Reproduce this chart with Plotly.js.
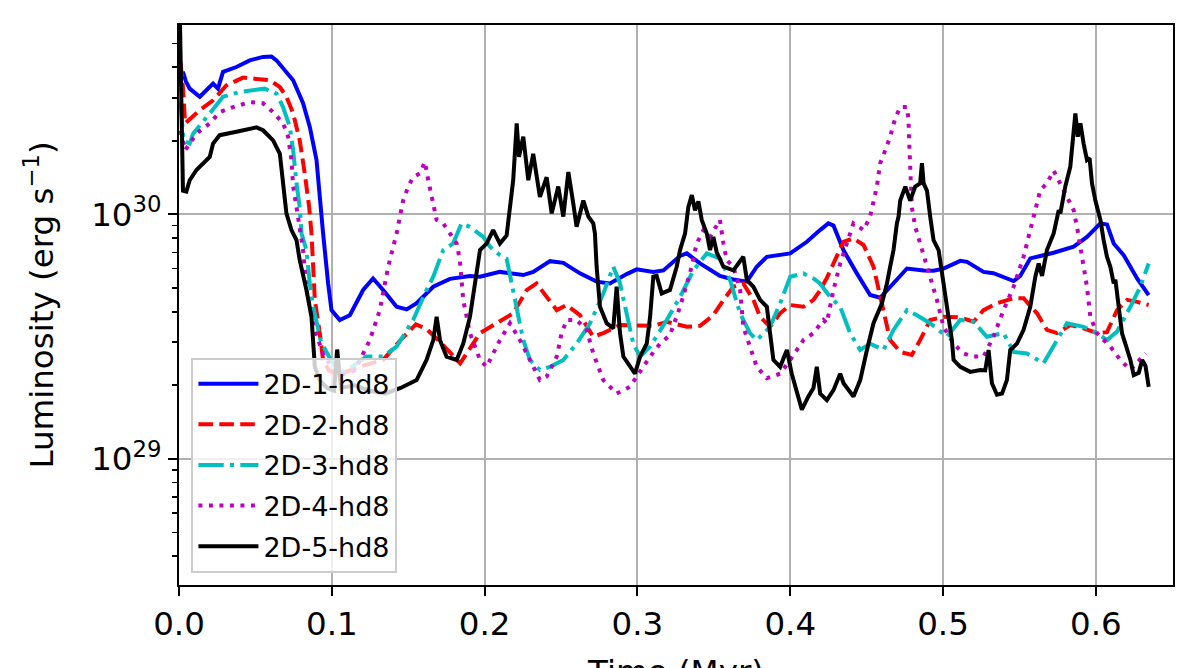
<!DOCTYPE html>
<html>
<head>
<meta charset="utf-8">
<script src="https://cdn.plot.ly/plotly-3.0.1.min.js"></script>
<style>html,body{margin:0;padding:0;background:#fff;overflow:hidden;width:1196px;height:668px;}#chart{width:1196px;height:700px;}</style>
</head>
<body>
<div id="chart"></div>
<script>
// ---- Data (time in Myr, luminosity in erg/s) ----
const seriesNames = ['2D-1-hd8','2D-2-hd8','2D-3-hd8','2D-4-hd8','2D-5-hd8'];

const t1 = [0.001,0.0026,0.0045,0.007,0.0136,0.019,0.0223,0.0255,0.0288,0.0376,0.0463,0.055,0.0605,0.0638,0.0681,0.0747,0.0812,0.0856,0.090,0.0921,0.0943,0.0976,0.0998,0.1052,0.1118,0.1205,0.127,0.1336,0.1424,0.149,0.1555,0.1664,0.1773,0.1904,0.197,0.210,0.2253,0.2318,0.2428,0.2515,0.2624,0.2733,0.282,0.293,0.2995,0.3104,0.317,0.3279,0.3323,0.341,0.354,0.3628,0.3716,0.3781,0.3847,0.400,0.4109,0.4195,0.425,0.4283,0.4348,0.4436,0.4523,0.4589,0.4654,0.4764,0.4873,0.4938,0.5003,0.5113,0.5157,0.5265,0.533,0.5396,0.5462,0.5505,0.5571,0.5637,0.5724,0.5855,0.5942,0.603,0.6073,0.6117,0.6182,0.627,0.6346];
const L1 = [3.6e30,3.83e30,3.5e30,3.27e30,3.03e30,3.27e30,3.43e30,3.27e30,3.83e30,4.01e30,4.27e30,4.41e30,4.43e30,4.27e30,3.95e30,3.54e30,2.85e30,2.28e30,1.67e30,1.14e30,8.36e29,5.22e29,4.06e29,3.70e29,3.87e29,4.91e29,5.47e29,4.91e29,4.19e29,4.09e29,4.33e29,5.06e29,5.45e29,5.60e29,5.56e29,5.82e29,5.65e29,5.82e29,6.44e29,6.34e29,5.74e29,5.31e29,5.22e29,5.70e29,5.96e29,5.82e29,5.90e29,6.76e29,6.93e29,6.31e29,5.60e29,5.42e29,5.31e29,6.11e29,6.71e29,6.93e29,7.73e29,8.63e29,9.19e29,9.0e29,7.15e29,5.74e29,4.68e29,4.56e29,5.06e29,6.01e29,5.90e29,5.88e29,6.0e29,6.46e29,6.4e29,5.82e29,5.75e29,5.53e29,5.34e29,5.6e29,6.61e29,6.76e29,6.97e29,7.38e29,8.09e29,9.19e29,9.1e29,7.61e29,6.82e29,5.47e29,4.68e29];

const t2 = [0.001,0.0026,0.004,0.0136,0.0223,0.031,0.0419,0.0529,0.0594,0.066,0.0703,0.0747,0.079,0.0823,0.0852,0.0867,0.0889,0.0921,0.0943,0.098,0.104,0.112,0.12,0.1336,0.145,0.155,0.162,0.171,0.184,0.197,0.2187,0.2275,0.234,0.2406,0.2472,0.2537,0.2624,0.2711,0.2777,0.2886,0.2995,0.3104,0.3192,0.3323,0.341,0.3497,0.3563,0.3628,0.3693,0.3759,0.3803,0.3868,0.3934,0.40,0.4086,0.4152,0.4196,0.424,0.4283,0.4348,0.4414,0.448,0.4545,0.461,0.4654,0.472,0.4796,0.485,0.4916,0.5003,0.5113,0.52,0.5265,0.5353,0.5462,0.5527,0.5615,0.568,0.5746,0.5833,0.592,0.6008,0.6073,0.6139,0.6204,0.627,0.6346];
const L2 = [4.2e30,3.3e30,2.36e30,2.67e30,2.93e30,3.37e30,3.63e30,3.59e30,3.54e30,3.32e30,3.03e30,2.59e30,2.01e30,1.47e30,1.07e30,8.36e29,4.47e29,3.27e29,2.54e29,2.3e29,2.2e29,2.3e29,2.4e29,2.54e29,3.06e29,3.55e29,3.4e29,3.0e29,2.46e29,3.27e29,3.94e29,4.9e29,5.22e29,4.6e29,4.06e29,4.26e29,3.87e29,3.16e29,3.27e29,3.53e29,3.5e29,3.5e29,3.64e29,3.47e29,3.5e29,3.87e29,4.47e29,5.06e29,5.22e29,4.47e29,3.81e29,3.47e29,3.94e29,4.26e29,4.19e29,4.47e29,4.9e29,5.5e29,6.3e29,7.73e29,7.98e29,7.5e29,6.11e29,4.06e29,3.06e29,2.74e29,2.66e29,3.06e29,3.70e29,3.81e29,3.79e29,3.64e29,4.06e29,4.33e29,4.54e29,4.54e29,3.94e29,3.37e29,3.27e29,3.53e29,3.42e29,3.27e29,3.3e29,4.06e29,4.47e29,4.39e29,4.26e29];

const t3 = [0.001,0.003,0.007,0.0092,0.0201,0.0288,0.0398,0.0485,0.0561,0.0638,0.0681,0.0725,0.0747,0.0769,0.079,0.0802,0.0834,0.0856,0.0878,0.093,0.1,0.106,0.112,0.1227,0.1336,0.1424,0.1532,0.162,0.1664,0.1729,0.1794,0.1849,0.1904,0.1991,0.2035,0.21,0.2144,0.2177,0.221,0.2253,0.2297,0.2362,0.2428,0.2515,0.2602,0.269,0.2777,0.2842,0.2886,0.293,0.2973,0.3017,0.3083,0.3192,0.3279,0.3366,0.3454,0.3541,0.3606,0.3672,0.3737,0.3781,0.3868,0.3934,0.40,0.4086,0.4152,0.4195,0.4261,0.4327,0.4392,0.4458,0.4523,0.461,0.4676,0.4764,0.4829,0.4916,0.5026,0.5113,0.52,0.5287,0.5396,0.5462,0.5549,0.5658,0.5724,0.5811,0.592,0.6008,0.6073,0.6139,0.6226,0.6291,0.6346];
const L3 = [2.9e30,2.0e30,1.95e30,2.14e30,2.59e30,3.03e30,3.17e30,3.22e30,3.27e30,3.12e30,2.75e30,2.28e30,1.83e30,1.34e30,1.07e30,8.36e29,7.15e29,5.22e29,4.19e29,3.0e29,2.5e29,2.25e29,2.35e29,2.62e29,2.62e29,2.88e29,3.70e29,4.91e29,5.56e29,7.15e29,7.61e29,9.19e29,8.9e29,8.09e29,7.38e29,6.82e29,6.6e29,5.22e29,4.06e29,3.06e29,2.54e29,2.31e29,2.38e29,2.54e29,2.96e29,3.59e29,4.75e29,6.11e29,5.22e29,3.94e29,2.96e29,2.62e29,2.88e29,3.70e29,4.60e29,5.90e29,6.93e29,6.6e29,5.4e29,3.94e29,3.27e29,3.06e29,3.47e29,4.33e29,5.56e29,5.74e29,5.47e29,5.22e29,4.6e29,4.19e29,3.27e29,2.79e29,2.96e29,2.79e29,3.37e29,4.06e29,3.87e29,3.59e29,3.16e29,3.70e29,3.64e29,3.16e29,3.27e29,2.74e29,2.70e29,2.46e29,2.88e29,3.59e29,3.47e29,3.27e29,3.06e29,3.32e29,4.19e29,5.06e29,6.3e29];

const t4 = [0.001,0.004,0.007,0.0114,0.0201,0.0266,0.0354,0.0463,0.055,0.0616,0.0681,0.0714,0.0736,0.0747,0.0769,0.079,0.0812,0.0834,0.088,0.095,0.105,0.115,0.1249,0.1314,0.1369,0.1424,0.1467,0.15,0.1532,0.1576,0.1609,0.1631,0.1664,0.1686,0.1729,0.1773,0.1817,0.1838,0.186,0.1904,0.197,0.2013,0.21,0.2166,0.2231,0.2297,0.2362,0.2406,0.2472,0.2504,0.2537,0.2602,0.2668,0.2711,0.2777,0.2864,0.2951,0.2995,0.3083,0.3148,0.3213,0.3279,0.3344,0.3388,0.3432,0.3475,0.354,0.3563,0.3585,0.3628,0.3672,0.3693,0.3737,0.3781,0.3847,0.3934,0.40,0.4086,0.4152,0.4217,0.4239,0.4283,0.4327,0.4392,0.4414,0.448,0.4523,0.4567,0.4589,0.4622,0.4654,0.4687,0.472,0.4764,0.4774,0.478,0.4785,0.4796,0.4818,0.485,0.4895,0.4916,0.496,0.5003,0.5069,0.5134,0.52,0.5265,0.533,0.5396,0.5462,0.5527,0.5593,0.5615,0.5637,0.568,0.5724,0.5746,0.5811,0.5855,0.5877,0.592,0.5942,0.5964,0.6008,0.6095,0.616,0.6226,0.6291,0.6325];
const L4 = [2.2e30,1.83e30,1.95e30,2.14e30,2.36e30,2.62e30,2.75e30,2.88e30,2.85e30,2.62e30,2.36e30,2.08e30,1.67e30,1.3e30,1.07e30,8.9e29,7.15e29,4.91e29,3.5e29,2.6e29,2.2e29,2.3e29,3.06e29,4.06e29,6.11e29,8.36e29,1.14e30,1.3e30,1.42e30,1.47e30,1.64e30,1.38e30,1.07e30,9.5e29,9.19e29,8.36e29,7.61e29,6.5e29,4.47e29,3.27e29,2.54e29,2.38e29,3.06e29,3.59e29,3.06e29,2.54e29,2.1e29,2.17e29,2.62e29,3.27e29,3.70e29,3.70e29,3.37e29,2.70e29,2.1e29,1.85e29,1.97e29,2.17e29,2.62e29,2.96e29,3.21e29,4.19e29,5.74e29,7.61e29,8.63e29,8.09e29,9.5e29,7.6e29,6.5e29,6.11e29,4.91e29,3.47e29,2.88e29,2.38e29,2.14e29,2.23e29,2.54e29,3.06e29,3.27e29,3.70e29,3.59e29,4.91e29,6.3e29,8.36e29,9.19e29,8.63e29,9.8e29,1.3e30,1.62e30,1.83e30,2.08e30,2.47e30,2.75e30,2.75e30,2.43e30,1.89e30,1.42e30,1.07e30,8.9e29,7.61e29,6.11e29,5.40e29,4.47e29,3.47e29,2.96e29,2.70e29,2.62e29,2.62e29,3.16e29,4.06e29,5.06e29,6.71e29,9.8e29,1.11e30,1.26e30,1.34e30,1.51e30,1.42e30,1.18e30,1.04e30,8.9e29,6.3e29,5.06e29,3.81e29,3.27e29,2.88e29,2.54e29,2.31e29,2.54e29,2.70e29];

const t5 = [0.0003,0.0026,0.0048,0.007,0.0114,0.0157,0.0201,0.0223,0.0266,0.0376,0.0507,0.055,0.0616,0.066,0.0681,0.0703,0.0736,0.0769,0.079,0.0834,0.0867,0.0878,0.0889,0.092,0.097,0.1015,0.1035,0.106,0.115,0.125,0.135,0.145,0.1555,0.162,0.1664,0.1686,0.1708,0.1751,0.1817,0.186,0.1904,0.1937,0.197,0.2013,0.2056,0.21,0.2144,0.2187,0.221,0.2225,0.2253,0.2286,0.2318,0.2362,0.2406,0.2439,0.2482,0.2515,0.2548,0.258,0.2602,0.2646,0.2679,0.2711,0.2722,0.2733,0.2755,0.2799,0.2842,0.2864,0.2886,0.2908,0.294,0.2984,0.3017,0.3061,0.3083,0.3104,0.3126,0.3159,0.3213,0.3257,0.3279,0.3312,0.3333,0.3356,0.3377,0.3399,0.3421,0.3454,0.3475,0.3497,0.3519,0.3563,0.3628,0.3693,0.3716,0.3759,0.3803,0.3847,0.3868,0.389,0.3934,0.3978,0.401,0.4043,0.4076,0.4119,0.4152,0.4174,0.4196,0.424,0.4283,0.4327,0.4349,0.4414,0.4458,0.4502,0.4545,0.46,0.4633,0.4654,0.4676,0.4698,0.4709,0.472,0.4753,0.4785,0.4818,0.485,0.4862,0.4873,0.4895,0.4916,0.4938,0.4971,0.4993,0.5014,0.5036,0.5058,0.5069,0.5113,0.5178,0.5244,0.5276,0.5298,0.532,0.5353,0.5386,0.5418,0.544,0.5484,0.5527,0.5571,0.5604,0.5626,0.5648,0.568,0.5724,0.5757,0.5768,0.58,0.5833,0.5855,0.5866,0.5882,0.5899,0.592,0.5942,0.5959,0.5975,0.5997,0.603,0.6051,0.6073,0.6095,0.6117,0.6128,0.6149,0.6171,0.6193,0.6226,0.6248,0.6281,0.6303,0.6325,0.6346];
const L5 = [8e30,1.25e30,1.24e30,1.38e30,1.52e30,1.62e30,1.72e30,1.95e30,2.11e30,2.18e30,2.27e30,2.21e30,2.01e30,1.77e30,1.34e30,1.01e30,8.63e29,7.85e29,6.5e29,4.91e29,3.81e29,2.79e29,2.38e29,2.1e29,1.95e29,1.9e29,2.8e29,1.95e29,2.0e29,1.9e29,1.85e29,1.95e29,2.1e29,2.54e29,3.06e29,3.81e29,3.06e29,2.62e29,2.54e29,2.96e29,3.81e29,5.22e29,7.15e29,7.6e29,8.63e29,7.6e29,8.2e29,1.38e30,2.36e30,1.72e30,2.08e30,1.38e30,1.77e30,1.18e30,1.42e30,1.01e30,1.3e30,9.8e29,1.49e30,1.11e30,8.9e29,1.14e30,9.8e29,9.19e29,8.36e29,6.11e29,4.19e29,3.59e29,3.42e29,5.06e29,3.27e29,2.62e29,2.46e29,2.23e29,2.62e29,2.96e29,3.81e29,5.56e29,5.6e29,4.75e29,4.91e29,6.11e29,7.15e29,8.36e29,1.07e30,1.2e30,1.04e30,1.13e30,9.5e29,8.36e29,7.15e29,8.09e29,7.0e29,6.11e29,5.9e29,6.71e29,5.4e29,5.06e29,4.47e29,4.19e29,3.27e29,2.54e29,2.38e29,2.79e29,2.23e29,1.85e29,1.59e29,1.80e29,1.95e29,2.38e29,1.85e29,1.74e29,1.91e29,2.23e29,2.04e29,1.80e29,2.1e29,2.79e29,3.59e29,4.33e29,5.22e29,6.11e29,7.15e29,9.19e29,9.8e29,1.14e30,1.3e30,1.14e30,1.3e30,1.34e30,1.62e30,1.34e30,1.25e30,9.8e29,7.85e29,7.15e29,5.74e29,4.75e29,3.94e29,3.06e29,2.54e29,2.38e29,2.27e29,2.31e29,2.3e29,2.79e29,2.04e29,1.83e29,1.85e29,2.1e29,2.79e29,2.96e29,3.37e29,4.19e29,5.56e29,6.3e29,5.6e29,7.15e29,8.36e29,1.04e30,1.01e30,1.3e30,1.57e30,2.14e30,2.59e30,2.08e30,2.36e30,1.95e30,1.67e30,1.7e30,1.34e30,1.14e30,9.5e29,7.85e29,6.71e29,6.11e29,5.22e29,5.4e29,4.06e29,3.27e29,2.96e29,2.54e29,2.2e29,2.25e29,2.54e29,2.4e29,1.97e29];

// axis ticks
const xTickVals = [0.0,0.1,0.2,0.3,0.4,0.5,0.6];
const xTickText = ['0.0','0.1','0.2','0.3','0.4','0.5','0.6'];
const yTickVals = [1e29,1e30];
const yTickText = ['10<sup>29</sup>','10<sup>30</sup>'];
const yMinorVals = [4e28,5e28,6e28,7e28,8e28,9e28,2e29,3e29,4e29,5e29,6e29,7e29,8e29,9e29,2e30,3e30,4e30,5e30];

// ---- styles ----
const FONT = 'DejaVu Sans, Verdana, sans-serif';
const styles = [
  {color:'#0000ff', dash:'solid'},
  {color:'#ff0000', dash:'14.6px,6.3px'},
  {color:'#00bfbf', dash:'25.3px,6.3px,4px,6.3px'},
  {color:'#bf00bf', dash:'4px,6.5px'},
  {color:'#000000', dash:'solid'}
];
const xs = [t1,t2,t3,t4,t5];
const ys = [L1,L2,L3,L4,L5];

const traces = seriesNames.map((n,i)=>({
  type:'scatter', mode:'lines', name:n, x:xs[i], y:ys[i],
  legendgroup:'g'+i,
  line:{color:styles[i].color, width:4, dash:styles[i].dash}
}));

// figure is taller than the window so that the x title is cut at the bottom edge as in the reference
const layout = {
  width:1196, height:700,
  margin:{l:179, r:23, t:25, b:115, pad:0},
  paper_bgcolor:'#ffffff', plot_bgcolor:'#ffffff',
  font:{family:FONT, color:'#000000', size:32.5},
  showlegend:true,
  legend:{
    x:0.0125, y:0.022, xanchor:'left', yanchor:'bottom',
    bgcolor:'rgba(255,255,255,0.8)', bordercolor:'#cccccc', borderwidth:2,
    font:{family:FONT, size:27, color:'#000000'},
    tracegroupgap:2.5, itemwidth:60
  },
  xaxis:{
    range:[0,0.6505], tickmode:'array', tickvals:xTickVals, ticktext:xTickText,
    ticks:'outside', ticklen:9, tickwidth:2, tickcolor:'#000',
    showline:true, linecolor:'#000', linewidth:2, mirror:true,
    showgrid:true, gridcolor:'#b0b0b0', gridwidth:2, zeroline:false,
    tickfont:{family:FONT, size:32.5, color:'#000'},
    title:{text:'Time (Myr)', font:{family:FONT, size:32.5, color:'#000'}, standoff:18},
    automargin:false
  },
  yaxis:{
    type:'log', range:[28.484,30.775], tickmode:'array', tickvals:yTickVals, ticktext:yTickText,
    ticks:'outside', ticklen:9, tickwidth:2, tickcolor:'#000',
    minor:{tickmode:'array', tickvals:yMinorVals, ticks:'outside', ticklen:5, tickwidth:1.6, tickcolor:'#000', showgrid:false},
    showline:true, linecolor:'#000', linewidth:2, mirror:true,
    showgrid:true, gridcolor:'#b0b0b0', gridwidth:2, zeroline:false,
    tickfont:{family:FONT, size:32.5, color:'#000'},
    title:{text:'Luminosity (erg s<sup>\u22121</sup>)', font:{family:FONT, size:32.5, color:'#000'}, standoff:28},
    automargin:false
  }
};

Plotly.newPlot('chart', traces, layout, {displayModeBar:false, staticPlot:true});
</script>
</body>
</html>
